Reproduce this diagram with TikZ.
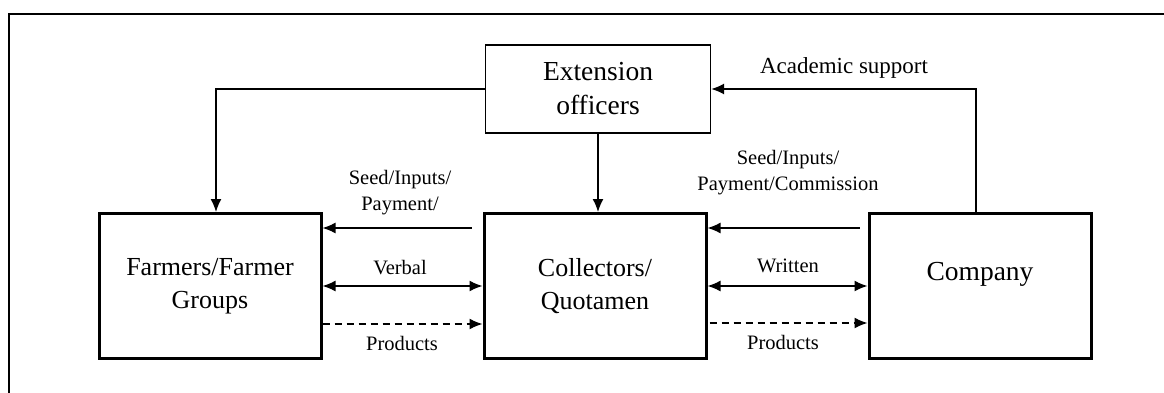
\documentclass[tikz,border=0pt]{standalone}
\usepackage{fontspec}
\setmainfont{Liberation Serif}
\usetikzlibrary{arrows.meta,positioning}

\begin{document}
\begin{tikzpicture}[x=1pt, y=-1pt, node distance={385pt},
		box/.style={draw, line width=3pt, minimum width=222pt, minimum height=145pt, align=center, font=\fontsize{26}{33}\selectfont},
		lbl/.style={align=center, font=\fontsize{20.5}{26}\selectfont},
		arr/.style={line width=1.5pt, -{Latex[length=13pt,width=11pt]}},
		both/.style={line width=1.5pt, {Latex[length=13pt,width=11pt]}-{Latex[length=13pt,width=11pt]}},
		prod/.style={arr, dash pattern=on 7pt off 5pt}]
		\useasboundingbox (0,0) rectangle (1164,393);
		\draw[line width=2pt] (8.5,393) -- (8.5,14.5) -- (1164,14.5);

		\node[box] (farmers) at (210,286) {Farmers/Farmer\\Groups};
		\node[box] (collectors) [right of=farmers] {Collectors/\\Quotamen};
		\node[box, font=\fontsize{27.5}{33}\selectfont] (company) [right of=collectors] {\raisebox{30pt}{Company}};
		\node[draw, line width=1.3pt, minimum width=225pt, minimum height=88pt, align=center, font=\fontsize{27.5}{34}\selectfont] (ext) [above of=collectors, node distance=197pt, xshift=3pt] {Extension\\officers};

		\node[lbl] (inl) at (400,193) {Seed/Inputs/\\Payment/};
		\node[lbl] (verbal) at (400,268) {Verbal};
		\node[lbl] (prodl) at (402,343) {Products};
		\node[lbl] (inr) at (788,173) {Seed/Inputs/\\Payment/Commission};
		\node[lbl] (written) at (788,266) {Written};
		\node[lbl] (prodr) at (783,342) {Products};
		\node[lbl, font=\fontsize{23}{28}\selectfont] (acad) at (844,68) {Academic support};

		\draw[arr] (ext.south) -- (ext.south |- collectors.north);
		\draw[arr] (ext.west) -| ([xshift=6pt]farmers.north);
		\draw[arr] ([xshift=-4pt]company.north) |- (ext.east);
		\draw[arr] ([xshift=-11pt,yshift=58pt]collectors.west) -- ([yshift=58pt]farmers.east);
		\draw[both] (farmers.east) -- (collectors.west);
		\draw[prod] ([yshift=-38pt]farmers.east) -- ([yshift=-38pt]collectors.west);
		\draw[arr] ([xshift=-8pt,yshift=58pt]company.west) -- ([yshift=58pt]collectors.east);
		\draw[both] (collectors.east) -- (company.west);
		\draw[prod] ([xshift=2pt,yshift=-37pt]collectors.east) -- ([yshift=-37pt]company.west);
	\end{tikzpicture}
\end{document}
